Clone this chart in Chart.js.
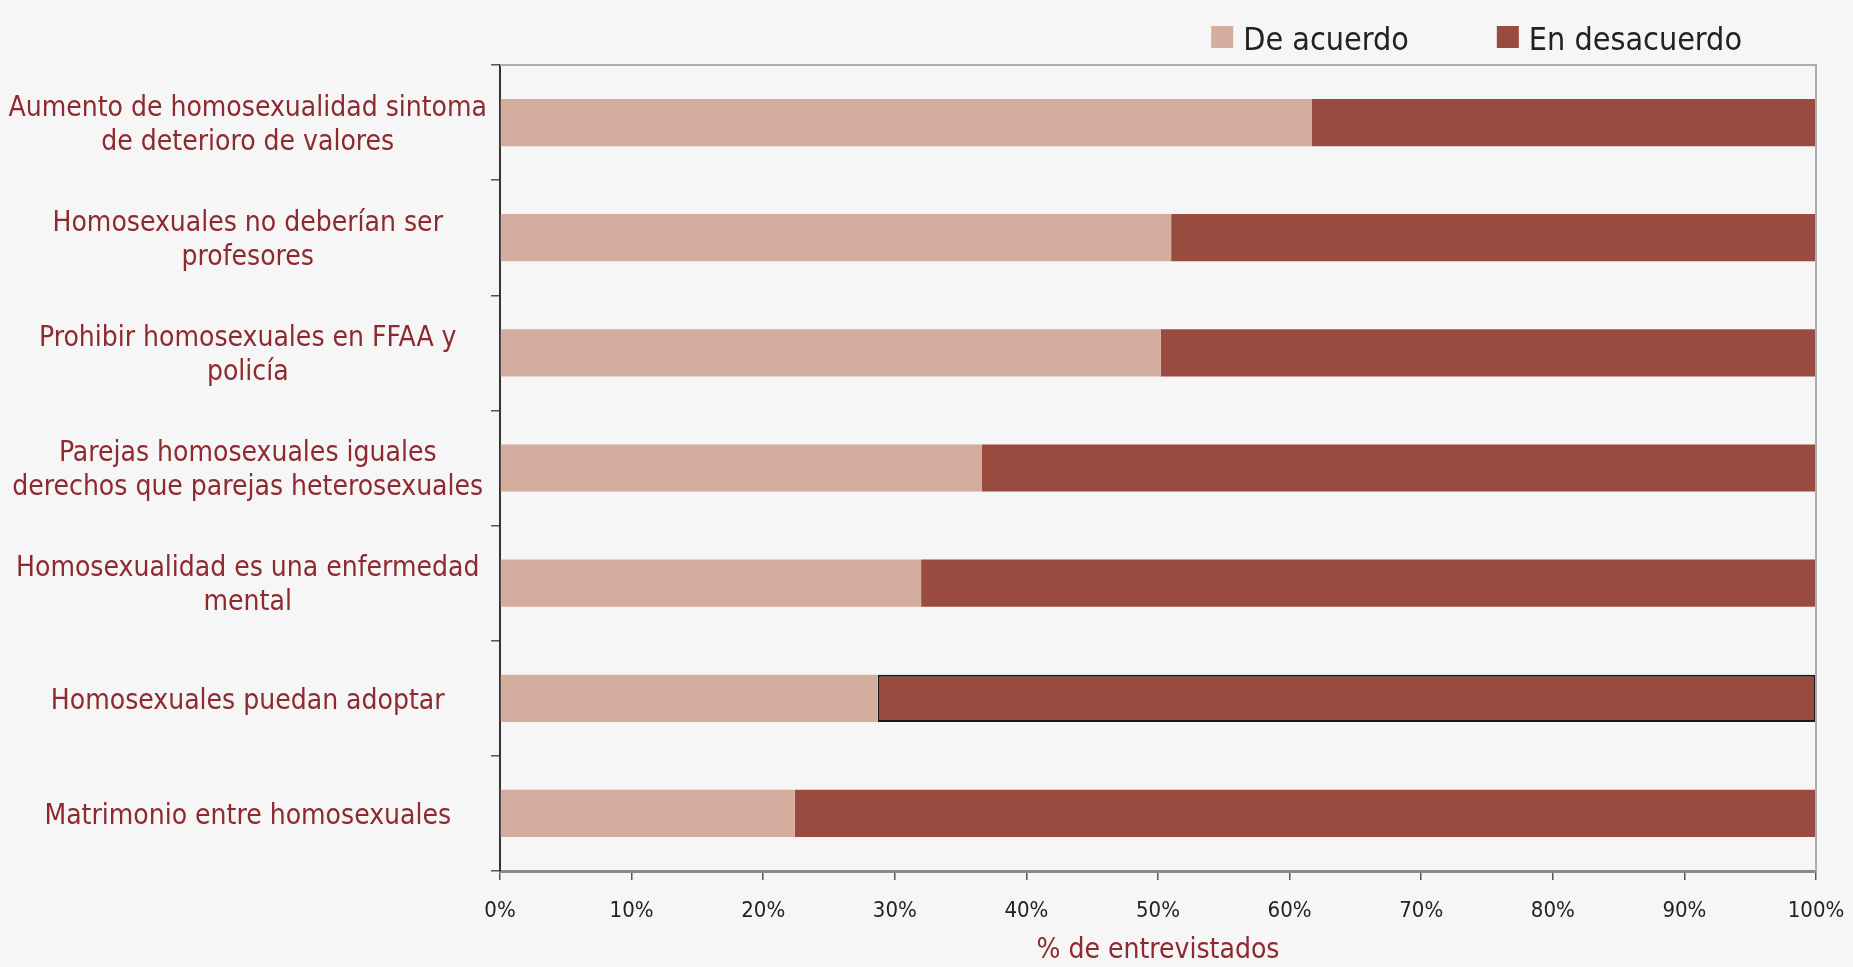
<!DOCTYPE html>
<html lang="es">
<head>
    <meta charset="UTF-8">
    <title>Actitudes hacia la homosexualidad</title>
    <script src="https://cdn.jsdelivr.net/npm/chart.js"></script>
    <style>
        html, body { margin: 0; background: #f6f6f6; overflow: hidden; }
        #wrap { width: 1853px; height: 967px; }
    </style>
</head>
<body>
<div id="wrap"><canvas id="chart"></canvas></div>
<script>
    // data (% of respondents)
    const categories = [
        ['Aumento de homosexualidad sintoma', 'de deterioro de valores'],
        ['Homosexuales no deberían ser', 'profesores'],
        ['Prohibir homosexuales en FFAA y', 'policía'],
        ['Parejas homosexuales iguales', 'derechos que parejas heterosexuales'],
        ['Homosexualidad es una enfermedad', 'mental'],
        'Homosexuales puedan adoptar',
        'Matrimonio entre homosexuales'
    ];
    const seriesNames = ['De acuerdo', 'En desacuerdo'];
    const deAcuerdo = [61.7, 51.0, 50.2, 36.6, 32.0, 28.7, 22.4];
    const enDesacuerdo = [38.3, 49.0, 49.8, 63.4, 68.0, 71.3, 77.6];
    const xTickValues = [0, 10, 20, 30, 40, 50, 60, 70, 80, 90, 100];

    const FONT = '"DejaVu Sans Condensed", "Liberation Sans", sans-serif';
    const RED_TEXT = '#8e2a2f';
    const LIGHT = '#d4ad9f';
    const DARK = '#9a4b3f';

    // only the "puedan adoptar" bar has a black outline in the original
    const darkBorderWidth = enDesacuerdo.map((v, i) => i === 5 ? 2 : 0);

    // legend drawn above the plot, right side
    const topLegend = {
        id: 'topLegend',
        afterDraw(chart) {
            const ctx = chart.ctx;
            const box = 22, textGap = 10, itemGap = 88;
            ctx.save();
            ctx.font = '32px ' + FONT;
            ctx.textBaseline = 'middle';
            const widths = chart.data.datasets.map(d => box + textGap + ctx.measureText(d.label).width);
            const total = widths.reduce((a, b) => a + b, 0) + itemGap * (widths.length - 1);
            let x = chart.chartArea.right - 74 - total;
            chart.data.datasets.forEach((d, i) => {
                ctx.fillStyle = d.backgroundColor;
                ctx.fillRect(x, 26, box, box);
                ctx.fillStyle = '#222';
                ctx.fillText(d.label, x + box + textGap, 42);
                x += widths[i] + itemGap;
            });
            ctx.restore();
        }
    };

    // light frame on top and right of the plot
    const plotFrame = {
        id: 'plotFrame',
        afterDatasetsDraw(chart) {
            const {ctx, chartArea: a} = chart;
            ctx.save();
            ctx.strokeStyle = '#a8aeb4';
            ctx.lineWidth = 2;
            ctx.beginPath();
            ctx.moveTo(a.left, a.top);
            ctx.lineTo(a.right, a.top);
            ctx.lineTo(a.right, a.bottom);
            ctx.stroke();
            ctx.restore();
        }
    };

    new Chart(document.getElementById('chart').getContext('2d'), {
        type: 'bar',
        data: {
            labels: categories,
            datasets: [{
                label: seriesNames[0],
                data: deAcuerdo,
                backgroundColor: LIGHT,
                borderWidth: 0,
                barPercentage: 0.41,
                categoryPercentage: 1
            }, {
                label: seriesNames[1],
                data: enDesacuerdo,
                backgroundColor: DARK,
                borderColor: '#1a1a1a',
                borderWidth: darkBorderWidth,
                borderSkipped: false,
                barPercentage: 0.41,
                categoryPercentage: 1
            }]
        },
        options: {
            indexAxis: 'y',
            responsive: true,
            maintainAspectRatio: false,
            animation: false,
            layout: { padding: { top: 65, right: 37, left: 8, bottom: 0 } },
            plugins: {
                legend: { display: false },
                tooltip: { enabled: false }
            },
            scales: {
                x: {
                    stacked: true,
                    min: 0,
                    max: 100,
                    afterBuildTicks(scale) {
                        scale.ticks = xTickValues.map(v => ({ value: v }));
                    },
                    afterFit(scale) {
                        scale.height = 96;
                        scale.paddingLeft = 0;
                        scale.paddingRight = 0;
                    },
                    border: { display: true, color: '#8a8a8a', width: 3 },
                    grid: { drawOnChartArea: false, drawTicks: true, tickLength: 9, color: '#555', lineWidth: 1.5 },
                    ticks: {
                        padding: 18,
                        color: '#222',
                        font: { family: FONT, size: 22 },
                        callback: v => v + '%'
                    },
                    title: {
                        display: true,
                        text: '% de entrevistados',
                        color: RED_TEXT,
                        font: { family: FONT, size: 28, lineHeight: 0.75 },
                        padding: { top: 0, bottom: 6 }
                    }
                },
                y: {
                    stacked: true,
                    afterFit(scale) { scale.width = 492; },
                    border: { display: true, color: '#333', width: 2 },
                    grid: { offset: true, drawOnChartArea: false, drawTicks: true, tickLength: 9, color: '#555', lineWidth: 1.5 },
                    ticks: {
                        padding: 4,
                        labelOffset: 3,
                        crossAlign: 'center',
                        color: RED_TEXT,
                        font: { family: FONT, size: 28, lineHeight: 1.21 }
                    }
                }
            }
        },
        plugins: [topLegend, plotFrame]
    });
</script>
</body>
</html>
